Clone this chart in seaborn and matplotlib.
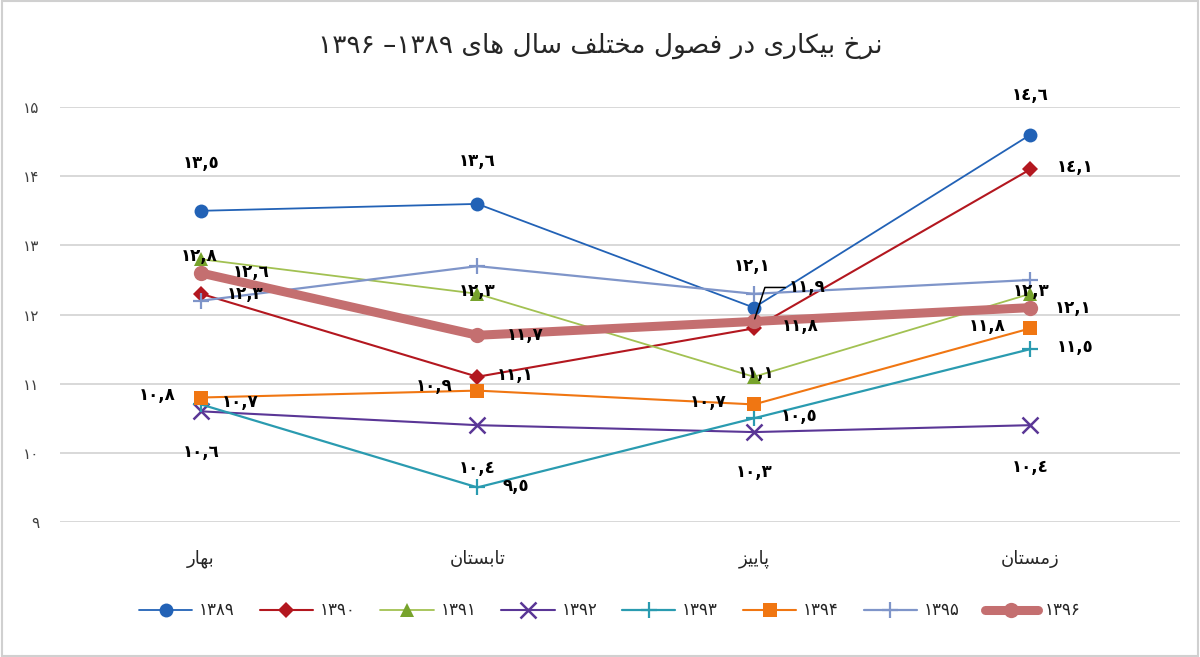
import re
import numpy as np
import pandas as pd
import matplotlib
matplotlib.use("Agg")
import matplotlib.pyplot as plt
import seaborn as sns

# فصول و نرخ بیکاری هر سال
seasons = ["بهار", "تابستان", "پاییز", "زمستان"]
years = ["1389", "1390", "1391", "1392", "1393", "1394", "1395", "1396"]

rate_1389 = [13.5, 13.6, 12.1, 14.6]
rate_1390 = [12.3, 11.1, 11.8, 14.1]
rate_1391 = [12.8, 12.3, 11.1, 12.3]
rate_1392 = [10.6, 10.4, 10.3, 10.4]
rate_1393 = [10.7, 9.5, 10.5, 11.5]
rate_1394 = [10.8, 10.9, 10.7, 11.8]
rate_1395 = [12.2, 12.7, 12.3, 12.5]
rate_1396 = [12.6, 11.7, 11.9, 12.1]

rates = [rate_1389, rate_1390, rate_1391, rate_1392,
         rate_1393, rate_1394, rate_1395, rate_1396]

title_text = "نرخ بیکاری در فصول مختلف سال های 1389– 1396"

# سبک هر سری
styles = {
    "1389": dict(color="#2262B6", marker="o", ms=10, lw=1.3),
    "1390": dict(color="#B3171F", marker="D", ms=8.5, lw=1.5),
    "1391": dict(color="#A2C152", marker="^", ms=10, lw=1.3, mfc="#77A32C", mec="#77A32C"),
    "1392": dict(color="#5A3696", marker="x", ms=11, lw=1.5, mew=1.8),
    "1393": dict(color="#2A9BB0", marker="+", ms=11, lw=1.6, mew=1.6),
    "1394": dict(color="#F07612", marker="s", ms=10, lw=1.5),
    "1395": dict(color="#7F95C9", marker="+", ms=11, lw=1.6, mew=1.6),
    "1396": dict(color="#C46F70", marker="o", ms=11, lw=6.5),
}

# جای برچسب ها نسبت به نقطه (پیکسل، رو به پایین مثبت)
label_pos = {
    "1389": [(0, -48), (0, -43), (-2, -42), (0, -40)],
    "1390": [(44, 0), (38, -2), (46, -2), (45, -2)],
    "1391": [(-2, -3), (0, -3), (2, -4), (1, -3)],
    "1392": [(0, 41), (0, 43), (0, 40), (0, 42)],
    "1393": [(39, -2), (38, -1), (45, -2), (45, -2)],
    "1394": [(-44, -3), (-43, -5), (-46, -2), (-43, -2)],
    "1396": [(50, -1), (48, 0), (53, -34), (43, 0)],
}

FORMS = {
    'ا': (0xFE8D, 0xFE8E, None, None),
    'ب': (0xFE8F, 0xFE90, 0xFE91, 0xFE92),
    'پ': (0xFB56, 0xFB57, 0xFB58, 0xFB59),
    'ت': (0xFE95, 0xFE96, 0xFE97, 0xFE98),
    'خ': (0xFEA5, 0xFEA6, 0xFEA7, 0xFEA8),
    'د': (0xFEA9, 0xFEAA, None, None),
    'ر': (0xFEAD, 0xFEAE, None, None),
    'ز': (0xFEAF, 0xFEB0, None, None),
    'س': (0xFEB1, 0xFEB2, 0xFEB3, 0xFEB4),
    'ص': (0xFEB9, 0xFEBA, 0xFEBB, 0xFEBC),
    'ف': (0xFED1, 0xFED2, 0xFED3, 0xFED4),
    'ک': (0xFB8E, 0xFB8F, 0xFB90, 0xFB91),
    'ل': (0xFEDD, 0xFEDE, 0xFEDF, 0xFEE0),
    'م': (0xFEE1, 0xFEE2, 0xFEE3, 0xFEE4),
    'ن': (0xFEE5, 0xFEE6, 0xFEE7, 0xFEE8),
    'ه': (0xFEE9, 0xFEEA, 0xFEEB, 0xFEEC),
    'و': (0xFEED, 0xFEEE, None, None),
    'ی': (0xFBFC, 0xFBFD, 0xFBFE, 0xFBFF),
}
FA_DIGITS = str.maketrans("0123456789", "۰۱۲۳۴۵۶۷۸۹")
AR_DIGITS = str.maketrans("0123456789.", "٠١٢٣٤٥٦٧٨٩,")
DIGIT_CHARS = "0123456789۰۱۲۳۴۵۶۷۸۹٠١٢٣٤٥٦٧٨٩"


def shape(text):
    out = []
    for i, ch in enumerate(text):
        if ch not in FORMS:
            out.append(ch)
            continue
        prev = text[i - 1] if i > 0 else ""
        nxt = text[i + 1] if i + 1 < len(text) else ""
        j_prev = prev in FORMS and FORMS[prev][2] is not None
        j_next = nxt in FORMS and FORMS[ch][2] is not None
        iso, fin, ini, med = FORMS[ch]
        if j_prev and j_next:
            out.append(chr(med))
        elif j_prev:
            out.append(chr(fin))
        elif j_next:
            out.append(chr(ini))
        else:
            out.append(chr(iso))
    return "".join(out)


def rtl(text):
    """شکل دادن حروف و چیدن راست به چپ"""
    s = shape(text.translate(FA_DIGITS))
    d = DIGIT_CHARS
    runs = re.findall(rf"[{d}]+(?:[,.][{d}]+)*|[^{d}]+", s)
    return "".join(r if r[0] in d else r[::-1] for r in reversed(runs))


sns.set_theme(style="white")
plt.rcParams['font.family'] = ['DejaVu Sans']

season_labels = [rtl(s) for s in seasons]
df = pd.DataFrame({
    "season": np.tile(season_labels, len(years)),
    "year": np.repeat(years, len(seasons)),
    "rate": np.concatenate(rates),
})

fig = plt.figure(figsize=(12, 6.57), dpi=100)
ax = fig.add_axes([0.05, 0.2055, 0.933, 0.6315])

for yr in years:
    st = styles[yr]
    sub = df[df["year"] == yr]
    sns.lineplot(data=sub, x="season", y="rate", ax=ax, sort=False,
                 color=st["color"], marker=st["marker"], markersize=st["ms"],
                 linewidth=st["lw"], markeredgewidth=st.get("mew", 0),
                 markerfacecolor=st.get("mfc", st["color"]),
                 markeredgecolor=st.get("mec", st["color"]),
                 label=yr.translate(FA_DIGITS),
                 zorder=4 if yr == "1396" else 3)

# برچسب مقادیر
px = 0.72
for yr, pos in label_pos.items():
    vals = rates[years.index(yr)]
    for i, (v, (dx, dy)) in enumerate(zip(vals, pos)):
        txt = f"{v:.1f}".translate(AR_DIGITS)
        kw = {}
        if yr == "1396" and i == 2:
            kw = dict(arrowprops=dict(arrowstyle="-", color="black", lw=1.1,
                                      shrinkA=0, shrinkB=2, relpos=(0, 0.5),
                                      connectionstyle="angle,angleA=180,angleB=72,rad=0"))
        ax.annotate(txt, xy=(i, v), xytext=(dx * px, -dy * px),
                    textcoords="offset points", ha="center", va="center",
                    fontsize=12, fontweight="bold", color="black",
                    zorder=6, annotation_clip=False, **kw)

ax.set_ylim(9, 15)
ax.set_xlim(-0.51, 3.54)
ax.set_yticks(range(9, 16))
ax.set_yticklabels([str(t).translate(FA_DIGITS) for t in range(9, 16)],
                   fontsize=11, color="#404040")
ax.tick_params(axis="y", length=0, pad=15)
ax.tick_params(axis="x", length=0, pad=20, labelsize=13)
ax.yaxis.grid(True, color="#D6D6D6", lw=1.3)
ax.set_axisbelow(True)
for sp in ax.spines.values():
    sp.set_visible(False)
ax.set_xlabel("")
ax.set_ylabel("")

ax.legend_.remove()
handles, labels = ax.get_legend_handles_labels()
fig.legend(handles, labels, loc="center", bbox_to_anchor=(0.508, 0.071),
           ncol=8, frameon=False, fontsize=12, handlelength=3.2,
           columnspacing=1.5, handletextpad=0.4)

fig.text(0.5, 0.93, rtl(title_text), ha="center", va="center", fontsize=19)

fig.patches.append(plt.Rectangle((0.002, 0.002), 0.996, 0.996, transform=fig.transFigure,
                                 fill=False, edgecolor="#D0D0D0", lw=1.5))

fig.savefig("out.png", dpi=100, facecolor="white")
